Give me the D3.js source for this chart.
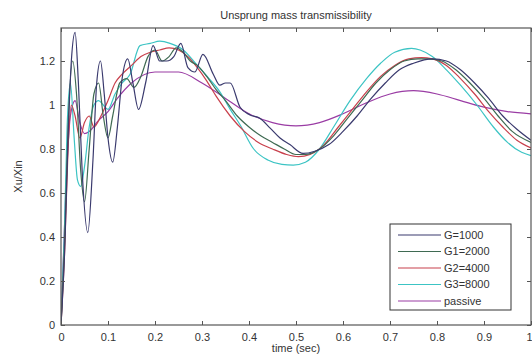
<!DOCTYPE html>
<html>
<head>
<meta charset="utf-8">
<script src="https://cdn.jsdelivr.net/npm/d3@7"></script>
<style>
  body { margin: 0; background: #fff; }
  text { font-family: "Liberation Sans", Arial, sans-serif; fill: #333; }
</style>
</head>
<body>
<div id="chart"></div>
<script>
// time stamps (s) and responses
var g1000T = [0, 0.008, 0.015, 0.022, 0.03, 0.037, 0.045, 0.057, 0.068, 0.076, 0.084, 0.092, 0.1, 0.11, 0.12, 0.13, 0.142, 0.153, 0.165, 0.18, 0.196, 0.21, 0.225, 0.24, 0.255, 0.27, 0.285, 0.302, 0.324, 0.338, 0.35, 0.36, 0.381, 0.402, 0.423, 0.445, 0.466, 0.487, 0.515, 0.54, 0.57, 0.6, 0.63, 0.66, 0.69, 0.72, 0.75, 0.79, 0.82, 0.85, 0.88, 0.91, 0.94, 0.97, 1.0];
var g1000V = [0, 0.35, 0.85, 1.2, 1.33, 1.1, 0.7, 0.42, 0.75, 1.1, 1.2, 1.05, 0.85, 0.74, 0.9, 1.12, 1.21, 1.1, 0.98, 1.1, 1.27, 1.2, 1.2, 1.22, 1.28, 1.17, 1.15, 1.23, 1.14, 1.09, 1.1, 1.1, 0.99, 0.955, 0.94, 0.895, 0.85, 0.82, 0.78, 0.79, 0.82, 0.88, 0.95, 1.03, 1.1, 1.16, 1.19, 1.21, 1.2, 1.16, 1.1, 1.03, 0.95, 0.89, 0.84];

var g2000T = [0, 0.008, 0.015, 0.025, 0.033, 0.042, 0.05, 0.06, 0.07, 0.08, 0.09, 0.1, 0.11, 0.125, 0.14, 0.155, 0.17, 0.185, 0.2, 0.215, 0.23, 0.245, 0.26, 0.275, 0.29, 0.31, 0.33, 0.35, 0.375, 0.4, 0.425, 0.45, 0.475, 0.5, 0.52, 0.55, 0.58, 0.61, 0.64, 0.67, 0.7, 0.73, 0.76, 0.78, 0.81, 0.84, 0.87, 0.9, 0.93, 0.96, 1.0];
var g2000V = [0, 0.4, 0.9, 1.2, 1.05, 0.7, 0.56, 0.8, 1.05, 1.1, 0.95, 0.85, 0.95, 1.1, 1.12, 1.08, 1.13, 1.22, 1.25, 1.2, 1.22, 1.26, 1.24, 1.2, 1.18, 1.13, 1.07, 1.02, 0.95, 0.9, 0.86, 0.83, 0.8, 0.775, 0.775, 0.8, 0.86, 0.94, 1.02, 1.1, 1.16, 1.2, 1.21, 1.21, 1.2, 1.16, 1.1, 1.03, 0.95, 0.88, 0.83];

var g4000T = [0, 0.008, 0.015, 0.022, 0.03, 0.04, 0.05, 0.06, 0.07, 0.085, 0.1, 0.115, 0.13, 0.15, 0.17, 0.19, 0.21, 0.23, 0.25, 0.27, 0.29, 0.31, 0.33, 0.36, 0.39, 0.42, 0.45, 0.48, 0.505, 0.53, 0.56, 0.59, 0.62, 0.65, 0.68, 0.71, 0.74, 0.767, 0.79, 0.82, 0.85, 0.88, 0.91, 0.94, 0.97, 1.0];
var g4000V = [0, 0.35, 0.8, 1.0, 0.95, 0.85, 0.92, 0.95, 0.9, 0.95, 1.02, 1.1, 1.14, 1.18, 1.22, 1.24, 1.25, 1.26, 1.25, 1.22, 1.17, 1.11, 1.04, 0.95, 0.88, 0.83, 0.8, 0.775, 0.765, 0.775, 0.82, 0.9, 0.98, 1.06, 1.13, 1.18, 1.21, 1.215, 1.21, 1.18, 1.12, 1.05, 0.97, 0.9, 0.84, 0.805];

var g8000T = [0, 0.007, 0.013, 0.02, 0.028, 0.035, 0.042, 0.05, 0.06, 0.07, 0.08, 0.09, 0.1, 0.115, 0.13, 0.147, 0.168, 0.19, 0.21, 0.232, 0.26, 0.29, 0.315, 0.338, 0.36, 0.381, 0.41, 0.44, 0.47, 0.494, 0.52, 0.55, 0.58, 0.615, 0.65, 0.68, 0.71, 0.746, 0.764, 0.79, 0.82, 0.85, 0.885, 0.92, 0.95, 0.98, 1.0];
var g8000V = [0, 0.4, 0.9, 1.1, 0.85, 0.66, 0.63, 0.72, 0.9, 1.0, 1.02, 1.0, 0.98, 1.05, 1.1, 1.14, 1.27, 1.28, 1.29, 1.28, 1.25, 1.18, 1.12, 1.06, 0.98, 0.91, 0.8, 0.75, 0.73, 0.727, 0.74, 0.8, 0.9, 1.02, 1.12, 1.19, 1.24, 1.257, 1.25, 1.22, 1.16, 1.09, 1.0, 0.9, 0.83, 0.785, 0.77];

var passiveT = [0, 0.01, 0.02, 0.03, 0.04, 0.05, 0.06, 0.08, 0.1, 0.12, 0.15, 0.2, 0.25, 0.3, 0.35, 0.4, 0.45, 0.5, 0.55, 0.6, 0.65, 0.7, 0.75, 0.8, 0.85, 0.9, 0.95, 1.0];
var passiveV = [0, 0.6, 0.95, 1.02, 0.92, 0.87, 0.88, 0.93, 0.97, 1.03, 1.1, 1.15, 1.15, 1.1, 1.03, 0.96, 0.92, 0.905, 0.92, 0.96, 1.01, 1.05, 1.065, 1.05, 1.02, 0.99, 0.97, 0.96];

var seriesNames = ["G=1000", "G1=2000", "G2=4000", "G3=8000", "passive"];
var seriesColors = ["#3a3a6e", "#3f6a52", "#c8404c", "#3cc4c4", "#9a3ca4"];
var xTicks = [0, 0.1, 0.2, 0.3, 0.4, 0.5, 0.6, 0.7, 0.8, 0.9, 1];
var yTicks = [0, 0.2, 0.4, 0.6, 0.8, 1, 1.2];

var series = [
  [g1000T, g1000V], [g2000T, g2000V], [g4000T, g4000V], [g8000T, g8000V], [passiveT, passiveV]
].map(function (p, i) {
  return { name: seriesNames[i], color: seriesColors[i],
    pts: p[0].map(function (t, j) { return [t, p[1][j]]; }) };
});

var width = 532, height = 356;
var margin = { left: 61, right: 1, top: 28, bottom: 31 };

var x = d3.scaleLinear().domain([0, 1]).range([margin.left, width - margin.right]);
var y = d3.scaleLinear().domain([0, 1.35]).range([height - margin.bottom, margin.top]);

var svg = d3.select("#chart").append("svg")
  .attr("width", width)
  .attr("height", height);

svg.append("defs").append("clipPath").attr("id", "clip")
  .append("rect")
  .attr("x", margin.left).attr("y", margin.top)
  .attr("width", x(1) - margin.left).attr("height", y(0) - margin.top);

var line = d3.line()
  .x(function (d) { return x(d[0]); })
  .y(function (d) { return y(d[1]); })
  .curve(d3.curveMonotoneX);

// draw passive first so the others sit on top, like the figure
svg.append("g").attr("clip-path", "url(#clip)")
  .selectAll("path")
  .data(series.slice().reverse())
  .enter().append("path")
  .attr("d", function (d) { return line(d.pts); })
  .attr("fill", "none")
  .attr("stroke", function (d) { return d.color; })
  .attr("stroke-width", 1.2);

// box + ticks, matlab style (ticks inside)
var axisCol = "#555";
svg.append("rect")
  .attr("x", margin.left).attr("y", margin.top)
  .attr("width", x(1) - margin.left).attr("height", y(0) - margin.top)
  .attr("fill", "none").attr("stroke", axisCol).attr("stroke-width", 1.2);

var fmt = function (d) { return d === 0 || d === 1 ? d : d3.format(".1f")(d); };

var xb = svg.append("g").attr("transform", "translate(0," + y(0) + ")")
  .call(d3.axisBottom(x).tickValues(xTicks).tickSizeInner(-4).tickSizeOuter(0).tickPadding(8).tickFormat(fmt));
var xt = svg.append("g").attr("transform", "translate(0," + y(1.35) + ")")
  .call(d3.axisTop(x).tickValues(xTicks).tickSizeInner(-4).tickSizeOuter(0).tickFormat(""));
var yl = svg.append("g").attr("transform", "translate(" + x(0) + ",0)")
  .call(d3.axisLeft(y).tickValues(yTicks).tickSizeInner(-4).tickSizeOuter(0).tickPadding(6).tickFormat(fmt));
var yr = svg.append("g").attr("transform", "translate(" + x(1) + ",0)")
  .call(d3.axisRight(y).tickValues(yTicks).tickSizeInner(-4).tickSizeOuter(0).tickFormat(""));

[xb, xt, yl, yr].forEach(function (g) {
  g.select(".domain").remove();
  g.selectAll("line").attr("stroke", axisCol);
  g.selectAll("text").attr("font-size", 11).attr("fill", "#333")
    .style("font-family", "'Liberation Sans', Arial, sans-serif");
});
// last x label sits at the page edge; keep it inside
xb.selectAll(".tick text").filter(function (d) { return d === 1; })
  .attr("text-anchor", "end").attr("dx", 1);

// titles
svg.append("text")
  .attr("x", (x(0) + x(1)) / 2).attr("y", 19)
  .attr("text-anchor", "middle").attr("font-size", 11)
  .text("Unsprung mass transmissibility");
svg.append("text")
  .attr("x", (x(0) + x(1)) / 2).attr("y", 352)
  .attr("text-anchor", "middle").attr("font-size", 11)
  .text("time (sec)");
svg.append("text")
  .attr("transform", "translate(22," + (y(0.675)) + ") rotate(-90)")
  .attr("text-anchor", "middle").attr("font-size", 11)
  .text("Xu/Xin");

// legend
var lg = svg.append("g").attr("transform", "translate(390,224)");
lg.append("rect").attr("width", 121).attr("height", 86)
  .attr("fill", "#fff").attr("stroke", "#333").attr("stroke-width", 1);
var row = lg.selectAll(".row").data(series).enter().append("g")
  .attr("transform", function (d, i) { return "translate(0," + (11 + i * 16.5) + ")"; });
row.append("line").attr("x1", 8).attr("x2", 51)
  .attr("stroke", function (d) { return d.color; }).attr("stroke-width", 1.2);
row.append("text").attr("x", 54).attr("dy", "0.35em").attr("font-size", 11)
  .text(function (d) { return d.name; });
</script>
</body>
</html>
